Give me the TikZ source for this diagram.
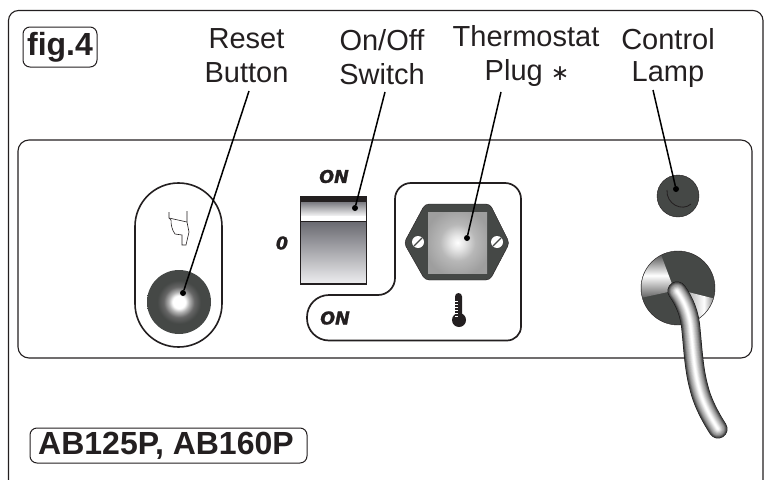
\documentclass[tikz,border=0pt]{standalone}
\usepackage{fontspec}
\setmainfont{Liberation Sans}
\newfontfamily\onfont[BoldItalicFeatures={FakeBold=1.5}]{DejaVu Sans}
\newfontfamily\starfont{DejaVu Sans}
\definecolor{ink}{HTML}{231F20}
\definecolor{dk}{HTML}{454846}
\definecolor{swtop}{RGB}{105,105,112}
\definecolor{swbot}{RGB}{238,238,240}
\pgfdeclareradialshading{discshade}{\pgfpoint{0bp}{0bp}}{
 color(0bp)=(white); color(5bp)=(white); color(8bp)=(white!70!black); color(12bp)=(white!40!black); color(17bp)=(dk); color(50bp)=(dk)}
\pgfdeclareradialshading{plugshade}{\pgfpoint{0bp}{0bp}}{
 color(0bp)=(white); color(6bp)=(white!90!black); color(15bp)=(white!72!black); color(28bp)=(white!62!black); color(50bp)=(white!62!black)}
\tikzset{
 ln/.style={draw=ink,line width=1.1pt},
 lead/.style={draw=black,line width=1.5pt},
 dotn/.style={circle,fill=black,inner sep=0pt,minimum size=6pt},
 lab/.style={font=\fontsize{29}{34}\selectfont,align=center,text=ink,inner sep=0pt},
 onl/.style={font=\onfont\fontsize{17.5}{17}\selectfont\bfseries\itshape,text=ink,inner sep=0pt},
 tag/.style={draw=ink,line width=1pt,rounded corners=7pt,text=ink,inner sep=0pt},
}
\begin{document}
\begin{tikzpicture}[x=1pt,y=-1pt]
\useasboundingbox (0,0) rectangle (768,479);
% frames
\draw[ln,rounded corners=10pt] (8.5,490) -- (8.5,10.5) -- (763,10.5) -- (763,490);
\draw[ln,rounded corners=11pt] (18,140) rectangle (752,358);
% labels
\node[tag,font=\fontsize{32}{32}\selectfont\bfseries,minimum width=74pt,minimum height=40pt] (fig) at (60,47) {fig.4};
\node[tag,minimum width=277pt,minimum height=35pt] (model) at (168.5,445.5) {};
\node[font=\fontsize{32}{32}\selectfont\bfseries,text=ink,inner sep=0pt] (modeltxt) at (166,446) {AB125P, AB160P};
\node[lab] (reset) at (246.5,56) {Reset\\Button};
\node[lab] (onoff) at (382,57) {On/Off\\Switch};
\node[lab] (thermo) at (526,56) {Thermostat\\\hspace*{2pt}Plug {\starfont\fontsize{22}{34}\selectfont ∗}};
\node[lab] (lamp) at (668,58) {Control\\[-2pt]Lamp};
% reset pill
\draw[ln,line width=1.6pt,rounded corners=43.4pt] (135,183) rectangle (222,347);
\shade[shading=discshade] (179,302) circle[radius=32];
% hand
\draw[ink,line width=.6pt,fill=white] (169,212) -- (169,218) -- (171,220) .. controls (171,225) and (172,230) .. (175,234) -- (182,235) -- (182,245) -- (186,245) -- (189,232) -- (187,222) -- (187,211);
\draw[ink,line width=.6pt] (169,218) -- (187,222);
% switch
\node[onl] (onA) at (334,176.5) {ON};
\node[onl] (zero) at (282,243) {0};
\shade[top color=swtop,bottom color=white] (300.5,200) rectangle (366.5,217);
\fill[white] (300.5,216) rectangle (366.5,221);
\shade[top color=swtop,bottom color=swbot] (300.5,221) rectangle (366.5,284);
\fill[ink] (300.5,196.5) rectangle (366.5,202);
\draw[ink,line width=1.3pt] (300.5,196.5) rectangle (366.5,284);
\draw[ink,line width=1.3pt] (301,221.5) -- (366,221.5);
% thermostat outline
\draw[ln,line width=1.7pt] (395,240) [rounded corners=16pt] -- (395,183) -- (521,183) [rounded corners=14pt] -- (521,340.5) [rounded corners=22pt] -- (307,340.5) -- (307,295) [rounded corners=17pt] -- (395,295) -- cycle;
\node[onl] (onB) at (335,318) {ON};
% socket
\fill[dk,draw=ink,rounded corners=4pt] (425,204) -- (490,204) -- (509.5,243) -- (490,280) -- (425,280) -- (404,243) -- cycle;
\shade[shading=plugshade] (428,212) rectangle (487,273);
\foreach \p/\q in {418/a,497/b}{
 \fill[white] (\p,242) circle[radius=6];
 \draw[dk,line width=1.2pt] (\p-4,246) -- (\p+4,238);
}
% thermometer
\fill[ink] (455,296.5) arc[start angle=180,end angle=360,radius=3.5] -- (462,320) -- (455,320) -- cycle;
\fill[ink] (459,320) circle[radius=7];
\foreach \y in {301,304,307,310,313,316}{\draw[white,line width=.5pt] (455,\y) -- (458,\y);}
% lamp
\fill[dk,draw=ink] (678,196) circle[radius=21];
\draw[ink,line width=.8pt] (667,190) .. controls (666,204) and (682,212) .. (691,204);
% grommet
\fill[dk,draw=ink] (678,288) circle[radius=37];
\begin{scope}
\clip (678,288) circle[radius=36.5];
\shade[top color=gray!50!black,bottom color=gray!70!black,middle color=white] (672,284) -- (660,252) -- (636,252) -- (636,299) -- (668,292) -- cycle;
\shade[left color=gray!60,right color=gray!50!black,middle color=white] (688,292) -- (720,300) -- (720,330) -- (695,330) -- cycle;
\end{scope}
% cable
\foreach \w/\c in {19/8,18/25,16.5/35,15/45,13.5/55,12/62,10.5/68,9/74,7.5/80,6/86,4.5/92,3/97,1.5/100}{
 \draw[white!\c!black,line width=\w pt,line cap=round] (677,291) .. controls (685,302) and (690,315) .. (691,330) .. controls (693,350) and (694,370) .. (699,388) .. controls (703,404) and (711,418) .. (718,429);
}
% leaders
\node[dotn] (d1) at (183,293) {};
\node[dotn] (d2) at (355,208) {};
\node[dotn] (d3) at (467,238) {};
\node[dotn] (d4) at (676,189) {};
\coordinate (l1) at (249,91);
\coordinate (l2) at (385,92);
\coordinate (l3) at (501,92);
\coordinate (l4) at (653,90);
\draw[lead] (l1) -- (d1);
\draw[lead] (l2) -- (d2);
\draw[lead] (l3) -- (d3);
\draw[lead] (l4) -- (d4);
\end{tikzpicture}
\end{document}
